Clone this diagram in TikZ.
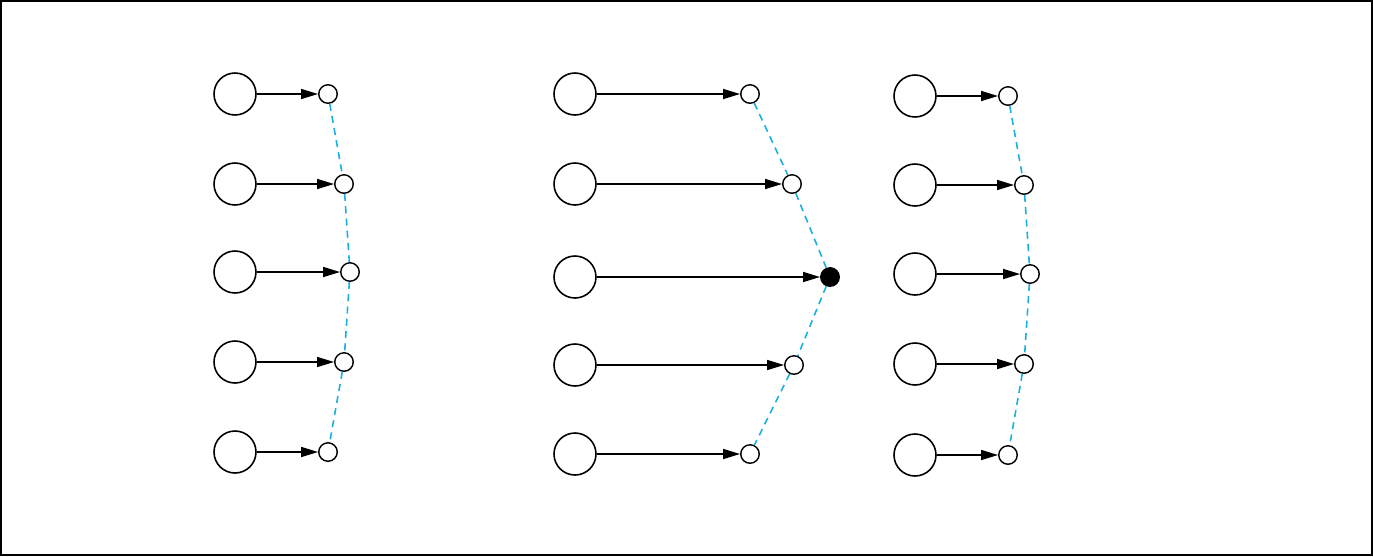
\documentclass[tikz,border=0pt]{standalone}
\usetikzlibrary{arrows.meta}
\definecolor{linkblue}{RGB}{27,175,222}
\tikzset{
  bigunit/.style={circle,draw,line width=0.9pt,minimum size=0.84cm,inner sep=0pt},
  smallunit/.style={circle,draw,line width=0.8pt,minimum size=0.37cm,inner sep=0pt},
  winner/.style={smallunit,fill=black},
  feed/.style={-{Triangle[length=0.34cm,width=0.2cm]},line width=0.9pt},
  link/.style={linkblue,line width=0.9pt,dash pattern=on 4pt off 3pt},
}
\begin{document}
\begin{tikzpicture}[x=0.02cm,y=-0.02cm]
        % Frame
        \useasboundingbox (0,0) rectangle (1373,556);
        \draw[line width=0.9pt] (0.8,0.8) rectangle (1372.2,555.2);

        % Left group
        \foreach \i/\y/\sx in {1/94/328,2/184/344,3/272/350,4/362/344,5/452/328} {
          \node[bigunit] (la\i) at (235,\y) {};
          \node[smallunit] (lb\i) at (\sx,\y) {};
          \draw[feed] (la\i) -- (lb\i);
        }
        \draw[link] (lb1) -- (lb2) -- (lb3) -- (lb4) -- (lb5);

        % Middle group
        \foreach \i/\y/\sx in {1/94/750,2/184/792,4/365/794,5/454/750} {
          \node[bigunit] (ma\i) at (575,\y) {};
          \node[smallunit] (mb\i) at (\sx,\y) {};
          \draw[feed] (ma\i) -- (mb\i);
        }
        \node[bigunit] (ma3) at (575,277) {};
        \node[winner] (mb3) at (830,277) {};
        \draw[feed] (ma3) -- (mb3);
        \draw[link] (mb1) -- (mb2) -- (mb3) -- (mb4) -- (mb5);

        % Right group
        \foreach \i/\y/\sx in {1/96/1008,2/185/1024,3/274/1030,4/364/1024,5/455/1008} {
          \node[bigunit] (ra\i) at (915,\y) {};
          \node[smallunit] (rb\i) at (\sx,\y) {};
          \draw[feed] (ra\i) -- (rb\i);
        }
        \draw[link] (rb1) -- (rb2) -- (rb3) -- (rb4) -- (rb5);
\end{tikzpicture}
\end{document}
